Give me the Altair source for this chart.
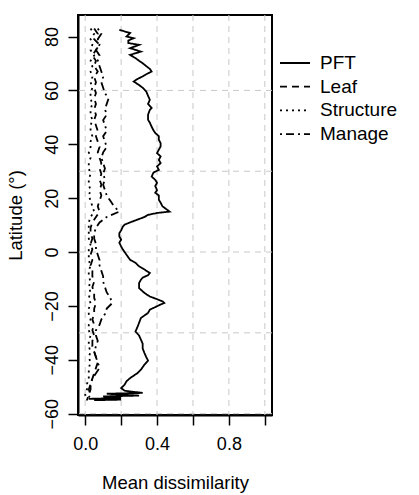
import altair as alt
import pandas as pd

# ---------------- data ----------------
series_names = ["PFT", "Leaf", "Structure", "Manage"]

pft_lat = [82.5, 81.3, 80.0, 79.4, 78.5, 77.6, 76.9, 75.7, 74.4, 73.2, 72.0, 71.0, 70.1, 69.0, 68.0,
           67.0, 66.0, 65.2, 64.2, 63.3, 62.0, 61.0, 59.6, 58.0, 56.5, 55.0, 53.5, 52.8, 51.0, 49.1,
           48.0, 46.5, 45.2, 44.2, 43.0, 41.7, 40.4, 39.2, 38.0, 36.7, 35.5, 34.2, 33.0, 31.8, 30.5,
           29.5, 28.0, 26.8, 25.7, 24.5, 23.0, 22.0, 21.0, 19.4, 18.3, 17.0, 16.0, 15.0, 14.5, 13.8,
           13.0, 12.0, 11.0, 10.2, 9.5, 8.0, 7.0, 5.8, 4.6, 3.5, 2.1, 0.9, -1.0, -2.9, -4.0,
           -5.3, -6.5, -7.8, -8.6, -9.5, -10.3, -11.5, -13.4, -15.2, -16.5, -17.5, -18.3, -18.9, -19.8, -21.4,
           -22.6, -24.5, -26.3, -28.0, -29.5, -31.0, -32.5, -34.0, -35.8, -37.5, -39.0, -40.3, -41.8, -43.7, -45.0,
           -46.8, -48.0, -49.2, -50.5, -51.5, -52.3, -52.6, -53.3, -53.6, -54.2, -54.5, -54.8, -55.0]
pft_val = [0.19, 0.25, 0.23, 0.27, 0.24, 0.24, 0.30, 0.25, 0.31, 0.25, 0.28, 0.30, 0.32, 0.34, 0.36,
           0.37, 0.34, 0.32, 0.29, 0.27, 0.30, 0.32, 0.34, 0.35, 0.36, 0.35, 0.37, 0.36, 0.35, 0.35,
           0.36, 0.37, 0.38, 0.39, 0.41, 0.41, 0.42, 0.42, 0.41, 0.40, 0.42, 0.41, 0.42, 0.40, 0.41,
           0.38, 0.37, 0.39, 0.40, 0.39, 0.40, 0.39, 0.41, 0.41, 0.42, 0.43, 0.45, 0.47, 0.40, 0.35,
           0.33, 0.29, 0.25, 0.22, 0.21, 0.20, 0.19, 0.19, 0.20, 0.19, 0.20, 0.21, 0.23, 0.25, 0.28,
           0.30, 0.33, 0.36, 0.35, 0.32, 0.31, 0.30, 0.30, 0.33, 0.36, 0.40, 0.43, 0.44, 0.41, 0.36,
           0.35, 0.31, 0.30, 0.29, 0.28, 0.30, 0.31, 0.32, 0.32, 0.33, 0.34, 0.35, 0.33, 0.31, 0.29,
           0.25, 0.23, 0.22, 0.20, 0.22, 0.32, 0.12, 0.30, 0.10, 0.20, 0.02, 0.20, 0.05]

small_lat = [83, 81, 79, 77, 75, 73, 71, 69, 67, 65, 63, 61, 59, 57, 55, 53, 51, 49, 47, 45,
             43, 41, 39, 37, 35, 33, 31, 29, 27, 25, 23, 21, 19, 17, 15, 13, 11, 9, 7, 5,
             3, 1, -1, -3, -5, -7, -9, -11, -13, -15, -17, -19, -21, -23, -25, -27, -29, -31, -33, -35,
             -37, -39, -41, -43, -45, -47, -49, -51, -53, -55]

leaf_val = [0.05, 0.07, 0.05, 0.08, 0.06, 0.04, 0.06, 0.05, 0.07, 0.05, 0.06, 0.05, 0.06, 0.05, 0.06,
            0.05, 0.06, 0.05, 0.06, 0.07, 0.06, 0.07, 0.08, 0.07, 0.08, 0.09, 0.08, 0.09, 0.08, 0.09,
            0.08, 0.09, 0.08, 0.07, 0.08, 0.06, 0.04, 0.03, 0.03, 0.04, 0.03, 0.04, 0.03, 0.04, 0.03,
            0.04, 0.04, 0.05, 0.04, 0.05, 0.05, 0.06, 0.05, 0.05, 0.04, 0.05, 0.04, 0.05, 0.04, 0.04,
            0.05, 0.06, 0.07, 0.06, 0.05, 0.04, 0.03, 0.03, 0.02, 0.01]

structure_val = [0.03, 0.05, 0.03, 0.04, 0.03, 0.05, 0.03, 0.04, 0.03, 0.04, 0.03, 0.04, 0.03, 0.03, 0.04,
                 0.03, 0.03, 0.04, 0.03, 0.03, 0.04, 0.03, 0.03, 0.02, 0.03, 0.02, 0.02, 0.03, 0.02, 0.02,
                 0.03, 0.02, 0.03, 0.04, 0.05, 0.03, 0.02, 0.02, 0.02, 0.02, 0.03, 0.02, 0.02, 0.02, 0.03,
                 0.02, 0.02, 0.03, 0.02, 0.03, 0.02, 0.03, 0.02, 0.02, 0.03, 0.02, 0.02, 0.03, 0.02, 0.02,
                 0.03, 0.02, 0.03, 0.02, 0.02, 0.02, 0.01, 0.01, 0.00, 0.01]

manage_val = [0.07, 0.09, 0.07, 0.08, 0.06, 0.08, 0.07, 0.08, 0.09, 0.10, 0.09, 0.10, 0.11, 0.13, 0.12,
              0.11, 0.12, 0.10, 0.11, 0.12, 0.10, 0.11, 0.12, 0.10, 0.09, 0.10, 0.11, 0.10, 0.11, 0.10,
              0.11, 0.12, 0.14, 0.16, 0.19, 0.12, 0.08, 0.06, 0.05, 0.05, 0.06, 0.06, 0.07, 0.08, 0.08,
              0.09, 0.10, 0.10, 0.11, 0.12, 0.14, 0.15, 0.12, 0.11, 0.09, 0.08, 0.06, 0.06, 0.07, 0.06,
              0.05, 0.06, 0.07, 0.08, 0.06, 0.04, 0.03, 0.02, 0.03, 0.01]

x_ticks = [0.0, 0.2, 0.4, 0.6, 0.8, 1.0]
y_ticks = [-60, -40, -20, 0, 20, 40, 60, 80]
grid_x = [0.0, 0.2, 0.4, 0.6, 0.8, 1.0]
grid_y = [-60, -30, 0, 30, 60]

# ---------------- tables ----------------
rows = []
for i, (la, v) in enumerate(zip(pft_lat, pft_val)):
    rows.append({"series": "PFT", "lat": la, "value": v, "idx": i})
for name, vals in [("Leaf", leaf_val), ("Structure", structure_val), ("Manage", manage_val)]:
    for i, (la, v) in enumerate(zip(small_lat, vals)):
        rows.append({"series": name, "lat": la, "value": v, "idx": i})
df = pd.DataFrame(rows)

FONT = "Liberation Sans"
xscale = alt.Scale(domain=[-0.04, 1.04], nice=False, zero=False)
yscale = alt.Scale(domain=[-60.5, 88], nice=False, zero=False)

x_axis = alt.Axis(values=x_ticks, title="Mean dissimilarity",
                  labelExpr="(abs(datum.value-0)<0.01 || abs(datum.value-0.4)<0.01 || abs(datum.value-0.8)<0.01) ? format(datum.value, '.1f') : ''",
                  labelOverlap=False, labelBaseline="top", labelPadding=10,
                  titleBaseline="alphabetic", titleY=73, titleX=97)
y_axis = alt.Axis(values=y_ticks, title="Latitude (°)", labelAngle=270,
                  labelAlign="center", labelBaseline="alphabetic", labelPadding=11,
                  titleAngle=270, titleX=-63, titleY=200, titleAlign="center",
                  titleBaseline="middle")

grid_style = dict(color="#c8c8c8", strokeDash=[6, 5], strokeWidth=1)

vgrid = alt.Chart(pd.DataFrame({"g": grid_x})).mark_rule(**grid_style).encode(
    x=alt.X("g:Q", scale=xscale, axis=x_axis)
)
hgrid = alt.Chart(pd.DataFrame({"g": grid_y})).mark_rule(**grid_style).encode(
    y=alt.Y("g:Q", scale=yscale, axis=y_axis)
)

lines = alt.Chart(df).mark_line(color="black", strokeWidth=1.8).encode(
    x=alt.X("value:Q", scale=xscale, axis=x_axis),
    y=alt.Y("lat:Q", scale=yscale, axis=y_axis),
    strokeDash=alt.StrokeDash(
        "series:N",
        scale=alt.Scale(domain=series_names,
                        range=[[1, 0], [7, 5], [2, 4], [2, 4, 8, 4]]),
        legend=alt.Legend(title=None, orient="none", legendX=206, legendY=37,
                          symbolType="M-1.5,0H1.5", symbolSize=400, symbolStrokeColor="black",
                          symbolStrokeWidth=1.8, labelFontSize=19, labelFont=FONT,
                          labelColor="black", labelOffset=14, rowPadding=2.7, padding=0),
    ),
    order=alt.Order("idx:Q"),
    detail="series:N",
)

chart = alt.layer(vgrid, hgrid, lines).properties(
    width=194, height=400,
    autosize=alt.AutoSizeParams(type="none"),
    padding={"left": 78, "top": 15, "right": 147, "bottom": 80},
    background="white",
).configure_view(
    stroke="black", strokeWidth=2
).configure_axis(
    domainColor="black", domainWidth=2, tickColor="black", tickWidth=1.5, tickSize=10,
    labelFont=FONT, labelFontSize=18, labelColor="black",
    titleFont=FONT, titleFontSize=18.5, titleColor="black", titleFontWeight="normal",
    grid=False,
)

chart.save("out.html", embed_options={"renderer": "svg", "actions": False})
